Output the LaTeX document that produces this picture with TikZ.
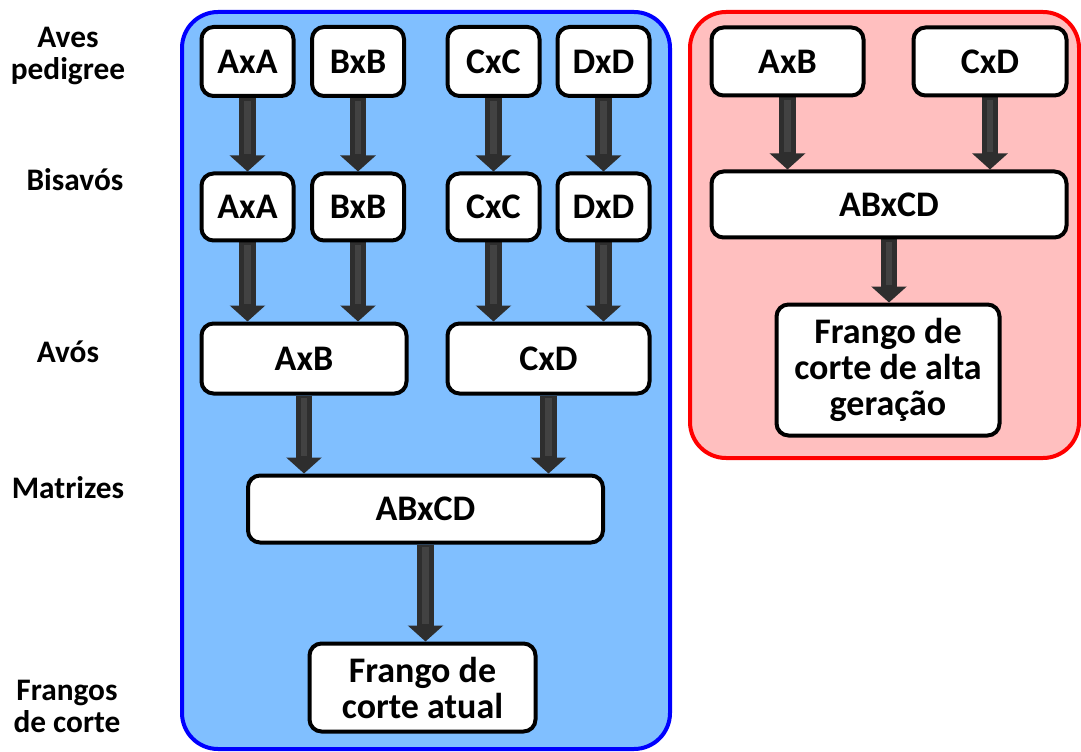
\documentclass[tikz,border=0pt]{standalone}
\usepackage{fontspec}
\setmainfont{Carlito}
\usetikzlibrary{arrows.meta}
\definecolor{bluefill}{HTML}{80BFFF}
\definecolor{redfill}{HTML}{FFBFBF}
\definecolor{arrowdark}{HTML}{2E2E2E}
\definecolor{arrowlight}{HTML}{424242}
\pgfdeclarelayer{bg}
\pgfdeclarelayer{arr}
\pgfsetlayers{bg,arr,main}
\begin{document}
\begin{tikzpicture}[x=0.75pt,y=-0.75pt,
  box/.style={draw=black, line width=3pt, fill=white, rounded corners=9pt, inner sep=0pt,
    font=\fontsize{27}{27}\selectfont\bfseries, align=center},
  lab/.style={font=\fontsize{23.5}{24}\selectfont\bfseries, align=center, inner sep=0pt},
  flow/.style={line width=12.5pt, draw=arrowdark, -{Triangle[width=26pt,length=12pt]},
    postaction={draw=arrowlight, line width=5pt, -, shorten >=13pt, shorten <=2pt}},
  container/.style={line width=3pt, rounded corners=27pt}
]
\useasboundingbox (0,0) rectangle (1081,752);

% left labels
\node[lab] (l1) at (68,56) {Aves\\pedigree};
\node[lab] (l2) at (75,180) {Bisavós};
\node[lab] (l3) at (68,352) {Avós};
\node[lab] (l4) at (68,488) {Matrizes};
\node[lab] (l5) at (67,706) {Frangos\\de corte};

% blue block
\node[box, minimum width=69pt, minimum height=51.75pt] (a1) at (247.5,61.5) {AxA};
\node[box, minimum width=69pt, minimum height=51.75pt] (b1) at (358,61.5) {BxB};
\node[box, minimum width=69pt, minimum height=51.75pt] (c1) at (493.5,61.5) {CxC};
\node[box, minimum width=69pt, minimum height=51.75pt] (d1) at (603.5,61.5) {DxD};
\node[box, minimum width=69pt, minimum height=50.25pt] (a2) at (247.5,207) {AxA};
\node[box, minimum width=69pt, minimum height=50.25pt] (b2) at (358,207) {BxB};
\node[box, minimum width=69pt, minimum height=50.25pt] (c2) at (493.5,207) {CxC};
\node[box, minimum width=69pt, minimum height=50.25pt] (d2) at (603.5,207) {DxD};
\node[box, minimum width=153.75pt, minimum height=52.5pt] (ab3) at (304,358.5) {AxB};
\node[box, minimum width=151.5pt, minimum height=52.5pt] (cd3) at (548.5,358.5) {CxD};
\node[box, minimum width=266.25pt, minimum height=50.25pt] (m4) at (425.5,509) {ABxCD};
\node[box, minimum width=169.5pt, minimum height=66pt] (f5) at (422.5,687.5) {Frango de\\corte atual};

% red block
\node[box, minimum width=114pt, minimum height=51pt] (rab) at (787.5,61.5) {AxB};
\node[box, minimum width=114.75pt, minimum height=51pt] (rcd) at (990,61.5) {CxD};
\node[box, minimum width=266.25pt, minimum height=49.5pt] (rm) at (889,204.5) {ABxCD};
\node[box, minimum width=167.25pt, minimum height=98.25pt] (rf) at (888,370) {Frango de\\corte de alta\\geração};

\begin{pgfonlayer}{bg}
  \draw[container, draw=blue, fill=bluefill] (182,12) rectangle (670,749);
  \draw[container, draw=red, fill=redfill] (690,12) rectangle (1079,458);
\end{pgfonlayer}

\begin{pgfonlayer}{arr}
  \draw[flow] (a1.south) -- (a2.north);
  \draw[flow] (b1.south) -- (b2.north);
  \draw[flow] (c1.south) -- (c2.north);
  \draw[flow] (d1.south) -- (d2.north);
  \draw[flow] (a2.south) -- (a2.south |- ab3.north);
  \draw[flow] (b2.south) -- (b2.south |- ab3.north);
  \draw[flow] (c2.south) -- (c2.south |- cd3.north);
  \draw[flow] (d2.south) -- (d2.south |- cd3.north);
  \draw[flow] (ab3.south) -- (ab3.south |- m4.north);
  \draw[flow] (cd3.south) -- (cd3.south |- m4.north);
  \draw[flow] (m4.south) -- (m4.south |- f5.north);
  \draw[flow] (rab.south) -- (rab.south |- rm.north);
  \draw[flow] (rcd.south) -- (rcd.south |- rm.north);
  \draw[flow] (rm.south) -- (rm.south |- rf.north);
\end{pgfonlayer}
\end{tikzpicture}
\end{document}
